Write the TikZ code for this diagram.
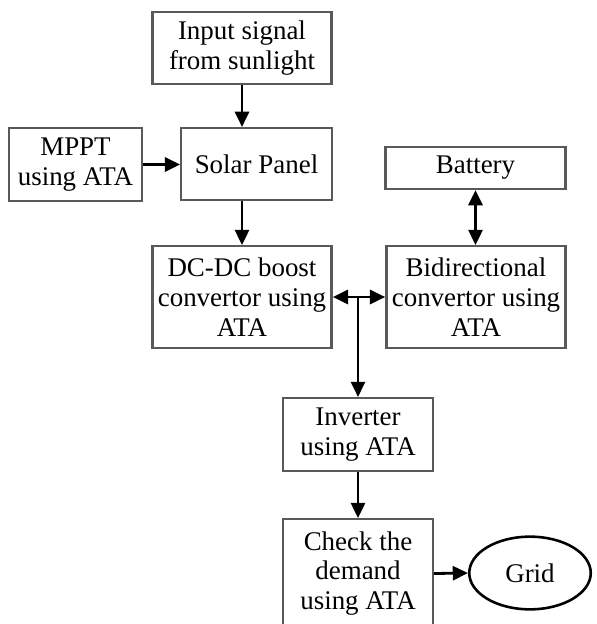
\documentclass[tikz,border=0pt]{standalone}
\usepackage{fontspec}
\setmainfont{Liberation Serif}
\usetikzlibrary{arrows.meta,shapes.geometric}
\begin{document}
\begin{tikzpicture}[x=0.03cm,y=-0.03cm,
  blk/.style={draw=black!65, line width=2pt, fill=white, align=center, inner sep=0pt,
    font=\fontsize{23}{25.5}\selectfont},
  oval/.style={draw=black, line width=2.2pt, ellipse, inner sep=0pt,
    font=\fontsize{23}{25.5}\selectfont},
  conn/.style={line width=2.4pt, -{Triangle[length=13pt,width=12pt]}},
  biconn/.style={line width=2.4pt, {Triangle[length=13pt,width=12pt]}-{Triangle[length=13pt,width=12pt]}}]
\useasboundingbox (0,0) rectangle (597,624);
\node[blk, minimum width=180*0.85pt, minimum height=72*0.85pt] (inp) at (242,48) {Input signal\\from sunlight};
\node[blk, minimum width=151*0.85pt, minimum height=72*0.85pt] (solar) at (256.5,164) {Solar Panel};
\node[blk, minimum width=133*0.85pt, minimum height=73*0.85pt] (mppt) at (75.5,164.5) {MPPT\\using ATA};
\node[blk, minimum width=180*0.85pt, minimum height=102*0.85pt] (dcdc) at (242,297) {DC-DC boost\\convertor using\\ATA};
\node[blk, minimum width=180*0.85pt, minimum height=102*0.85pt] (bidir) at (476,297) {Bidirectional\\convertor using\\ATA};
\node[blk, minimum width=181*0.85pt, minimum height=42*0.85pt] (bat) at (475.5,168) {Battery};
\node[blk, minimum width=150*0.85pt, minimum height=73*0.85pt] (inv) at (358,434.5) {Inverter\\using ATA};
\node[blk, minimum width=150*0.85pt, minimum height=109*0.85pt] (chk) at (358,573.5) {Check the\\demand\\using ATA};
\node[oval, minimum width=122*0.85pt, minimum height=73*0.85pt] (grid) at (530,573) {Grid};
\coordinate (j) at (358,297);
\draw[conn] (inp.south) -- (inp.south |- solar.north);
\draw[conn] (inp.south |- solar.south) -- (dcdc.north);
\draw[conn] (mppt.east) -- (mppt.east -| solar.west);
\draw[biconn] (bat.south) -- (bat.south |- bidir.north);
\draw[conn] (j) -- (dcdc.east);
\draw[conn] (j) -- (bidir.west);
\draw[conn] (j) -- (inv.north);
\draw[conn] (inv.south) -- (chk.north);
\draw[conn] (chk.east) -- (grid.west);
\end{tikzpicture}
\end{document}
